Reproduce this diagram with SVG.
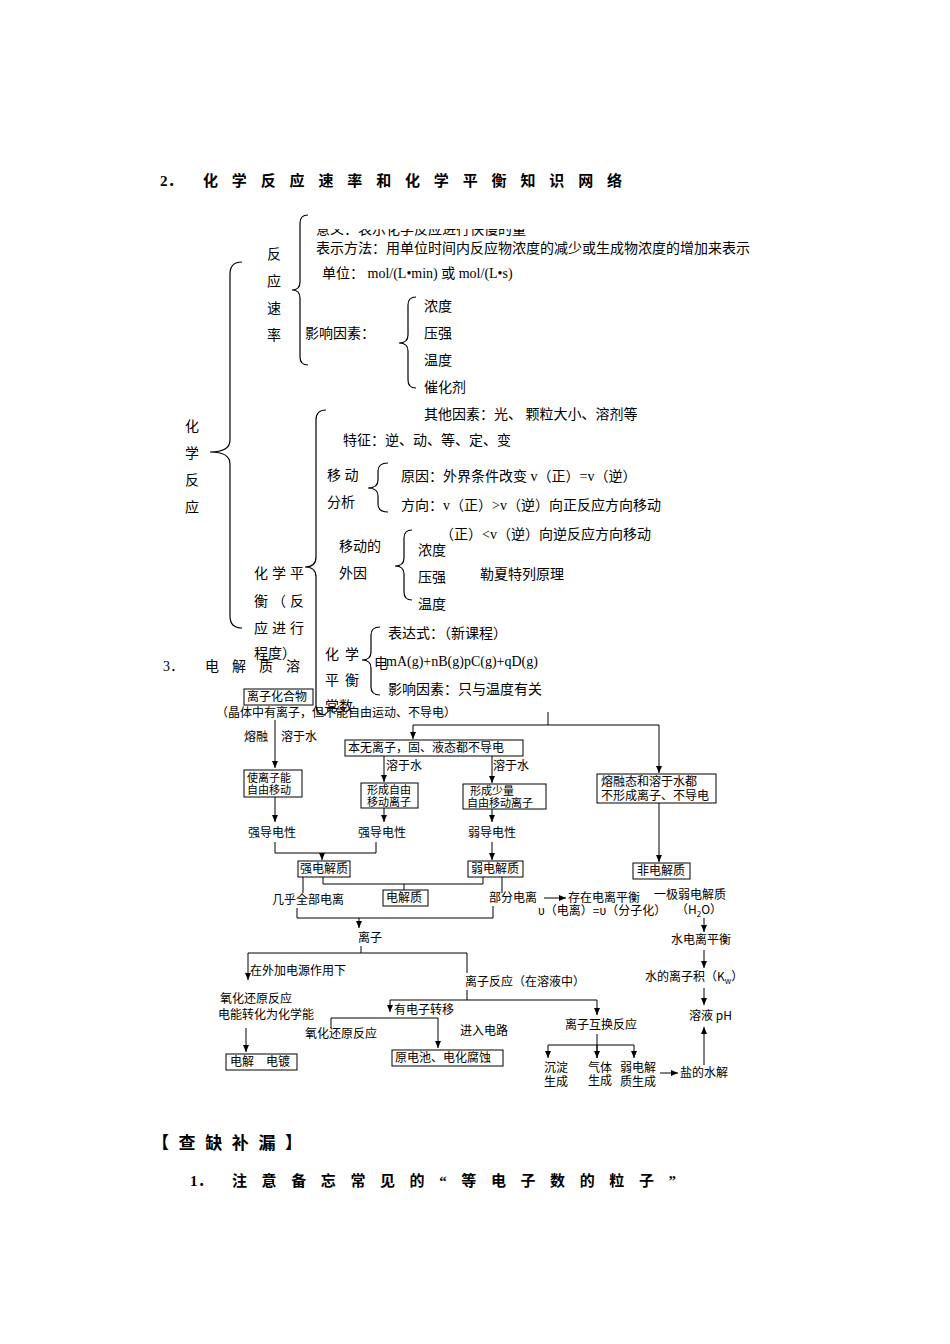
<svg xmlns="http://www.w3.org/2000/svg" width="950" height="1344" viewBox="0 0 950 1344">
<style>
.s{font-family:"Liberation Serif","Noto Sans CJK SC",serif;font-size:14px;fill:#000}
.f{font-family:"Noto Sans CJK SC","Liberation Sans",sans-serif;font-size:12px;fill:#000}
.t{font-size:11px}
.h{font-family:"Liberation Serif","Noto Sans CJK SC",serif;font-size:15px;font-weight:bold;fill:#000}
.b{fill:none;stroke:#000;stroke-width:1.2}
.bx{fill:#fff;stroke:#000;stroke-width:1}
.l{fill:none;stroke:#000;stroke-width:1}
</style>
<defs>
<marker id="a" markerWidth="8" markerHeight="8" refX="7" refY="4" orient="auto" markerUnits="userSpaceOnUse"><path d="M0,1 L7,4 L0,7 Z" fill="#000"/></marker>
<clipPath id="c1"><rect x="300" y="229" width="400" height="12"/></clipPath>
</defs>
<rect width="950" height="1344" fill="#fff"/>
<text class="h" x="160" y="186">2．</text>
<text class="h" x="203" y="186" textLength="419" lengthAdjust="spacing">化学反应速率和化学平衡知识网络</text>

<g id="braces">
<path class="b" d="M242,262 Q230,262 230,274 L230,440 Q230,452 210,452 Q230,452 230,464 L230,616 Q230,628 242,628"/>
<path class="b" d="M308,215 Q300,215 300,223 L300,282 Q300,290 292,290 Q300,290 300,298 L300,357 Q300,365 308,365"/>
<path class="b" d="M416,297 Q408,297 408,305 L408,335 Q408,343 399,343 Q408,343 408,351 L408,380 Q408,388 416,388"/>
<path class="b" d="M326,410 Q316,410 316,420 L316,557 Q316,567 305,567 Q316,567 316,577 L316,705 Q316,715 326,715"/>
<path class="b" d="M388,463 Q378,463 378,471 L378,480 Q378,488 368,488 Q378,488 378,496 L378,504 Q378,512 388,512"/>
<path class="b" d="M412,530 Q404,530 404,538 L404,558 Q404,566 395,566 Q404,566 404,574 L404,592 Q404,600 412,600"/>
<path class="b" d="M380,627 Q371,627 371,635 L371,652 Q371,660 362,660 Q371,660 371,668 L371,687 Q371,695 380,695"/>
</g>

<g id="rate">
<text class="s" x="185" y="431">化</text><text class="s" x="185" y="458">学</text><text class="s" x="185" y="485">反</text><text class="s" x="185" y="512">应</text>
<text class="s" x="267" y="259">反</text><text class="s" x="267" y="286">应</text><text class="s" x="267" y="313">速</text><text class="s" x="267" y="340">率</text>
<text class="s" x="316" y="234" clip-path="url(#c1)">意义：表示化学反应进行快慢的量</text>
<text class="s" x="316" y="253">表示方法：用单位时间内反应物浓度的减少或生成物浓度的增加来表示</text>
<text class="s" x="322" y="278">单位： mol/(L•min) 或 mol/(L•s)</text>
<text class="s" x="305" y="338">影响因素：</text>
<text class="s" x="424" y="311">浓度</text><text class="s" x="424" y="338">压强</text><text class="s" x="424" y="365">温度</text><text class="s" x="424" y="392">催化剂</text>
<text class="s" x="424" y="419">其他因素：光、 颗粒大小、溶剂等</text>
</g>

<g id="equilibrium">
<text class="s" x="343" y="445">特征：逆、动、等、定、变</text>
<text class="s" x="327" y="480">移  动</text><text class="s" x="327" y="507">分析</text>
<text class="s" x="401" y="481">原因：外界条件改变 v（正）=v（逆）</text>
<text class="s" x="401" y="510">方向：v（正）&gt;v（逆）向正反应方向移动</text>
<text class="s" x="440" y="539">（正）&lt;v（逆）向逆反应方向移动</text>
<text class="s" x="339" y="551">移动的</text><text class="s" x="339" y="578">外因</text>
<text class="s" x="418" y="555">浓度</text><text class="s" x="418" y="582">压强</text><text class="s" x="418" y="609">温度</text>
<text class="s" x="480" y="579">勒夏特列原理</text>
<text class="s" x="254" y="578" textLength="50">化学平</text>
<text class="s" x="254" y="606" textLength="50">衡（反</text>
<text class="s" x="254" y="633" textLength="50">应进行</text>
<text class="s" x="254" y="658">程度）</text>
<text class="s" x="325" y="659" textLength="34">化学</text>
<text class="s" x="325" y="685" textLength="34">平衡</text>
<text class="s" x="325" y="711">常数</text>
<text class="s" x="388" y="638">表达式：（新课程）</text>
<text class="s" x="374" y="668">电</text>
<text class="s" x="386" y="666">mA(g)+nB(g)pC(g)+qD(g)</text>
<text class="s" x="388" y="694">影响因素：只与温度有关</text>
</g>

<text class="s" x="163" y="671">3．</text>
<text class="s" x="205" y="671" letter-spacing="13">电解质溶</text>

<g id="connectors">
<path class="l" d="M275,720 V768" marker-end="url(#a)"/>
<path class="l" d="M548,712 V725 M413,725 H659"/>
<path class="l" d="M413,725 V739" marker-end="url(#a)"/>
<path class="l" d="M659,725 V773" marker-end="url(#a)"/>
<path class="l" d="M384,756 V782" marker-end="url(#a)"/>
<path class="l" d="M492,756 V783" marker-end="url(#a)"/>
<path class="l" d="M275,797 V822" marker-end="url(#a)"/>
<path class="l" d="M384,808 V822" marker-end="url(#a)"/>
<path class="l" d="M492,809 V822" marker-end="url(#a)"/>
<path class="l" d="M659,803 V862" marker-end="url(#a)"/>
<path class="l" d="M275,842 V853 H376 V842"/>
<path class="l" d="M322,853 V860" marker-end="url(#a)"/>
<path class="l" d="M492,842 V860" marker-end="url(#a)"/>
<path class="l" d="M303,877 V893 M323,877 V884 H483 V877 M404,884 V890 M502,877 V893"/>
<path class="l" d="M297,908 V918 H493 V906"/>
<path class="l" d="M359,918 V928" marker-end="url(#a)"/>
<path class="l" d="M544,898 H566" marker-end="url(#a)"/>
<path class="l" d="M361,946 V953 M248,953 H467 V973"/>
<path class="l" d="M248,953 V980" marker-end="url(#a)"/>
<path class="l" d="M467,990 V1000 M390,1000 H597"/>
<path class="l" d="M390,1000 V1012" marker-end="url(#a)"/>
<path class="l" d="M597,1000 V1015" marker-end="url(#a)"/>
<path class="l" d="M331,1028 V1018 H438"/>
<path class="l" d="M438,1018 V1048" marker-end="url(#a)"/>
<path class="l" d="M246,1028 V1052" marker-end="url(#a)"/>
<path class="l" d="M597,1034 V1058 M548,1045 H634"/>
<path class="l" d="M548,1045 V1058" marker-end="url(#a)"/>
<path class="l" d="M634,1045 V1058" marker-end="url(#a)"/>
<path class="l" d="M597,1045 V1058" marker-end="url(#a)"/>
<path class="l" d="M660,1073 H678" marker-end="url(#a)"/>
<path class="l" d="M704,918 V932" marker-end="url(#a)"/>
<path class="l" d="M704,950 V968" marker-end="url(#a)"/>
<path class="l" d="M704,988 V1005" marker-end="url(#a)"/>
<path class="l" d="M704,1065 V1027" marker-end="url(#a)"/>
</g>

<g id="n1"><rect class="bx" x="244" y="689" width="69" height="16"/><text class="f" x="247" y="701">离子化合物</text></g>
<text class="f" x="216" y="717">（晶体中有离子，但不能自由运动、不导电）</text>
<text class="f" x="244" y="741">熔融</text><text class="f" x="281" y="741">溶于水</text>
<g id="n2"><rect class="bx" x="244" y="770" width="58" height="27"/><text class="f t" x="247" y="782">使离子能</text><text class="f t" x="247" y="794">自由移动</text></g>
<g id="n3"><rect class="bx" x="345" y="740" width="178" height="16"/><text class="f" x="348" y="752">本无离子，固、液态都不导电</text></g>
<text class="f" x="386" y="770">溶于水</text><text class="f" x="493" y="770">溶于水</text>
<g id="n4"><rect class="bx" x="361" y="783" width="57" height="25"/><text class="f t" x="367" y="794">形成自由</text><text class="f t" x="367" y="806">移动离子</text></g>
<g id="n5"><rect class="bx" x="463" y="784" width="83" height="25"/><text class="f t" x="470" y="795">形成少量</text><text class="f t" x="467" y="807">自由移动离子</text></g>
<g id="n6"><rect class="bx" x="597" y="774" width="119" height="29"/><text class="f" x="601" y="786">熔融态和溶于水都</text><text class="f" x="601" y="800">不形成离子、不导电</text></g>
<text class="f" x="248" y="837">强导电性</text><text class="f" x="358" y="837">强导电性</text><text class="f" x="468" y="837">弱导电性</text>
<g id="n7"><rect class="bx" x="298" y="861" width="52" height="16"/><text class="f" x="300" y="873">强电解质</text></g>
<g id="n8"><rect class="bx" x="468" y="861" width="55" height="16"/><text class="f" x="471" y="873">弱电解质</text></g>
<g id="n9"><rect class="bx" x="633" y="863" width="57" height="16"/><text class="f" x="637" y="875">非电解质</text></g>
<g id="n10"><rect class="bx" x="383" y="890" width="45" height="16"/><text class="f" x="386" y="902">电解质</text></g>
<text class="f" x="272" y="904">几乎全部电离</text>
<text class="f" x="489" y="902">部分电离</text>
<text class="f" x="568" y="902">存在电离平衡</text>
<text class="f" x="538" y="915">υ（电离）=υ（分子化）</text>
<text class="f" x="654" y="899">一极弱电解质</text>
<text class="f" x="676" y="914">（H<tspan font-size="8" dy="3">2</tspan><tspan dy="-3">O）</tspan></text>
<text class="f" x="358" y="942">离子</text>
<text class="f" x="671" y="944">水电离平衡</text>
<text class="f" x="645" y="981">水的离子积（K<tspan font-size="8" dy="3">w</tspan><tspan dy="-3">）</tspan></text>
<text class="f" x="250" y="975">在外加电源作用下</text>
<text class="f" x="465" y="986">离子反应（在溶液中）</text>
<text class="f" x="220" y="1003">氧化还原反应</text>
<text class="f" x="218" y="1019">电能转化为化学能</text>
<text class="f" x="394" y="1014">有电子转移</text>
<text class="f" x="689" y="1020">溶液 pH</text>
<text class="f" x="565" y="1029">离子互换反应</text>
<text class="f" x="305" y="1038">氧化还原反应</text>
<text class="f" x="460" y="1035">进入电路</text>
<g id="n11"><rect class="bx" x="226" y="1054" width="71" height="16"/><text class="f" x="230" y="1066">电解　电镀</text></g>
<g id="n12"><rect class="bx" x="392" y="1050" width="111" height="16"/><text class="f" x="395" y="1062">原电池、电化腐蚀</text></g>
<text class="f" x="544" y="1072">沉淀</text><text class="f" x="544" y="1086">生成</text>
<text class="f" x="588" y="1072">气体</text><text class="f" x="588" y="1085">生成</text>
<text class="f" x="620" y="1072">弱电解</text><text class="f" x="620" y="1086">质生成</text>
<text class="f" x="680" y="1077">盐的水解</text>

<text class="h" style="font-size:17px" x="152" y="1149" textLength="150" lengthAdjust="spacing">【查缺补漏】</text>
<text class="h" x="190" y="1186">1．</text>
<text class="h" x="232" y="1186" textLength="444" lengthAdjust="spacing">注意备忘常见的“等电子数的粒子”</text>
</svg>
